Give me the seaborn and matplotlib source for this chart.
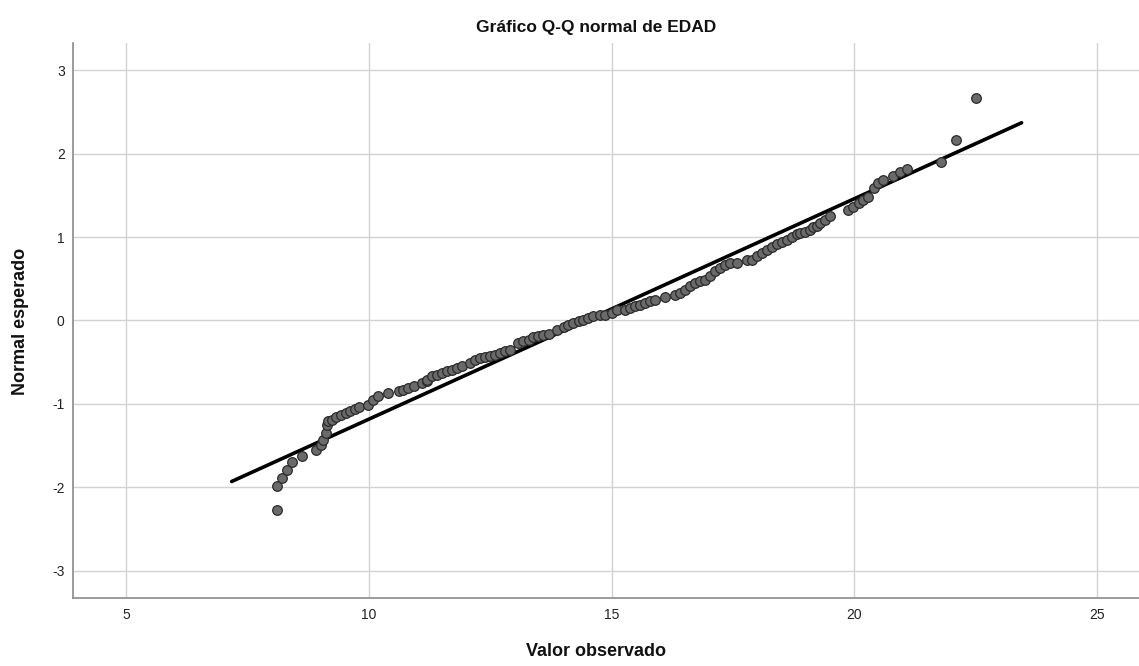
import matplotlib
matplotlib.use("Agg")
import matplotlib.pyplot as plt
import seaborn as sns
import pandas as pd

valor_observado = [
    8.11, 8.11, 8.20, 8.31, 8.41, 8.61, 8.91, 9.01, 9.06, 9.11, 9.13, 9.16,
    9.23, 9.32, 9.42, 9.53, 9.61, 9.71, 9.80, 9.99, 10.09, 10.19, 10.40,
    10.61, 10.71, 10.81, 10.92, 11.09, 11.19, 11.19, 11.29, 11.40, 11.50,
    11.60, 11.71, 11.81, 11.91, 12.08, 12.19, 12.29, 12.39, 12.50, 12.60,
    12.70, 12.80, 12.91, 13.08, 13.18, 13.29, 13.39, 13.49, 13.59, 13.70,
    13.87, 14.01, 14.11, 14.21, 14.32, 14.42, 14.52, 14.62, 14.76, 14.87,
    15.00, 15.11, 15.28, 15.38, 15.48, 15.59, 15.69, 15.79, 15.90, 16.10,
    16.31, 16.41, 16.51, 16.62, 16.72, 16.82, 16.93, 17.03, 17.13, 17.24,
    17.34, 17.44, 17.58, 17.79, 17.89, 17.99, 18.10, 18.20, 18.30, 18.40,
    18.51, 18.61, 18.71, 18.82, 18.89, 18.99, 19.09, 19.16, 19.23, 19.30,
    19.40, 19.50, 19.88, 19.98, 20.09, 20.19, 20.29, 20.40, 20.50, 20.60,
    20.81, 20.95, 21.08, 21.79, 22.10, 22.51,
]
normal_esperado = [
    -2.27, -1.99, -1.89, -1.79, -1.70, -1.63, -1.55, -1.49, -1.43, -1.35,
    -1.25, -1.21, -1.19, -1.16, -1.13, -1.11, -1.09, -1.06, -1.04, -1.01,
    -0.95, -0.91, -0.87, -0.85, -0.83, -0.81, -0.79, -0.75, -0.73, -0.71,
    -0.67, -0.65, -0.63, -0.61, -0.59, -0.57, -0.55, -0.51, -0.47, -0.45,
    -0.44, -0.43, -0.41, -0.39, -0.37, -0.35, -0.27, -0.24, -0.23, -0.20,
    -0.19, -0.17, -0.16, -0.11, -0.08, -0.05, -0.03, -0.01, 0.01, 0.03,
    0.05, 0.06, 0.07, 0.09, 0.12, 0.13, 0.15, 0.17, 0.19, 0.21, 0.23,
    0.25, 0.28, 0.31, 0.33, 0.37, 0.41, 0.45, 0.47, 0.49, 0.53, 0.59,
    0.63, 0.67, 0.69, 0.69, 0.72, 0.73, 0.77, 0.81, 0.85, 0.88, 0.92,
    0.94, 0.97, 1.00, 1.04, 1.05, 1.06, 1.09, 1.12, 1.13, 1.17, 1.21,
    1.25, 1.32, 1.36, 1.41, 1.44, 1.48, 1.59, 1.65, 1.68, 1.73, 1.78,
    1.82, 1.90, 2.16, 2.67,
]

# Reference line endpoints
linea_x = [7.17, 23.45]
linea_y = [-1.93, 2.37]

x_ticks = [5, 10, 15, 20, 25]
y_ticks = [-3, -2, -1, 0, 1, 2, 3]

puntos = pd.DataFrame({"x": valor_observado, "y": normal_esperado})
linea = pd.DataFrame({"x": linea_x, "y": linea_y})

sns.set_theme(style="whitegrid")
plt.rcParams["font.family"] = ["Liberation Sans", "DejaVu Sans"]

fig = plt.figure(figsize=(11.39, 6.66), dpi=100)
ax = fig.add_axes([0.0641, 0.1017, 0.9359, 0.8342])

sns.lineplot(data=linea, x="x", y="y", ax=ax, color="black", linewidth=2.6,
             zorder=3, sort=False)
sns.scatterplot(data=puntos, x="x", y="y", ax=ax, s=48, color="#6a6a6a",
                edgecolor="#2a2a2a", linewidth=0.9, zorder=4)

ax.set_xlim(3.90, 25.87)
ax.set_ylim(-3.33, 3.33)
ax.set_xticks(x_ticks)
ax.set_yticks(y_ticks)
ax.set_xticklabels([str(t) for t in x_ticks])
ax.set_yticklabels([str(t) for t in y_ticks])
ax.tick_params(axis="both", length=0, labelsize=10, colors="#222222")
ax.tick_params(axis="x", pad=7)
ax.tick_params(axis="y", pad=6)

ax.grid(True, color="#d2d2d2", linewidth=1.0)
ax.set_axisbelow(True)
for side in ["top", "right"]:
    ax.spines[side].set_visible(False)
for side in ["left", "bottom"]:
    ax.spines[side].set_visible(True)
    ax.spines[side].set_color("#8a8a8a")
    ax.spines[side].set_linewidth(1.2)
ax.set_facecolor("white")

ax.set_xlabel("")
ax.set_ylabel("")
fig.text(0.5237, 0.958, "Gráfico Q-Q normal de EDAD", ha="center", va="center",
         fontsize=12.5, fontweight="bold", color="#111111")
fig.text(0.5237, 0.0225, "Valor observado", ha="center", va="center",
         fontsize=13, fontweight="bold", color="#111111")
fig.text(0.018, 0.518, "Normal esperado", ha="center", va="center",
         rotation=90, fontsize=13, fontweight="bold", color="#111111")

fig.savefig("out.png", dpi=100, facecolor="white")
